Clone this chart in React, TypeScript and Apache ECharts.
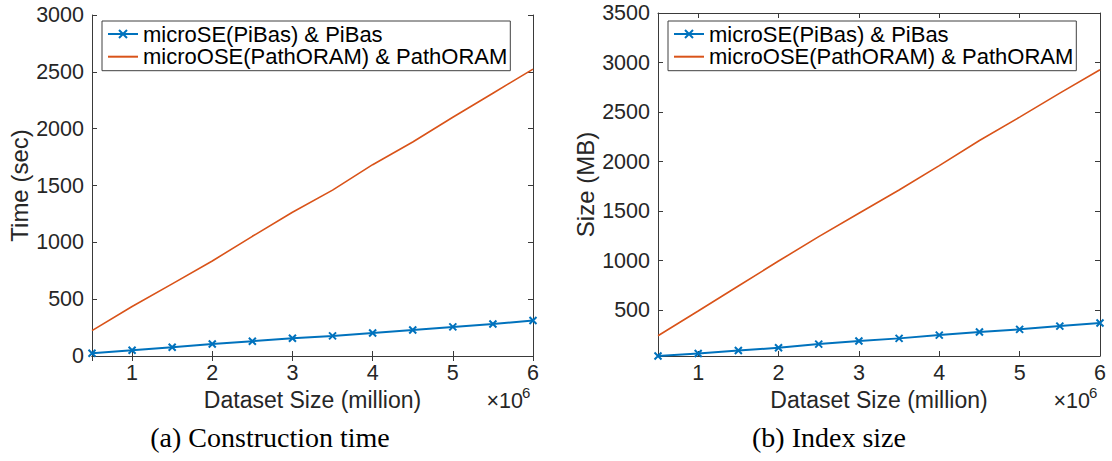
import React, { useEffect, useRef } from "react";
import * as echarts from "echarts";

// Dataset sizes (number of records)
const datasetSize = [500000, 1000000, 1500000, 2000000, 2500000, 3000000, 3500000, 4000000, 4500000, 5000000, 5500000, 6000000];

// (a) Construction time, seconds
const timeMicroSE = [24, 50, 77, 106, 130, 156, 177, 203, 229, 256, 282, 312];
const timeMicroOSE = [223, 435, 635, 836, 1053, 1265, 1459, 1683, 1883, 2100, 2312, 2524];

// (b) Index size, MB
const sizeMicroSE = [36, 62, 92, 119, 156, 187, 214, 247, 278, 305, 338, 369];
const sizeMicroOSE = [240, 490, 743, 995, 1241, 1478, 1713, 1959, 2212, 2448, 2691, 2927];

const seriesNames = ["microSE(PiBas) & PiBas", "microOSE(PathORAM) & PathORAM"];
const captions = ["(a) Construction time", "(b) Index size"];
const yNames = ["Time (sec)", "Size (MB)"];
const xName = "Dataset Size (million)";

const BLUE = "#0072BD";
const ORANGE = "#D95319";
const AXIS = "#3a3a3a";
const TEXT = "#262626";
const SANS = "'Liberation Sans', Arial, Helvetica, sans-serif";
const SERIF = "'Liberation Serif', 'Times New Roman', serif";
const CROSS = "path://M0,0L10,10M10,0L0,10";

const grids = [
  { left: 92, top: 15, width: 441, height: 341 },
  { left: 658, top: 13, width: 442, height: 343 },
];

const yRanges = [
  { min: 0, max: 3000 },
  { min: 36, max: 3500 },
];

export default function App() {
  const ref = useRef<HTMLDivElement>(null);

  useEffect(() => {
    if (!ref.current) return;
    const chart = echarts.init(ref.current, null, { renderer: "svg" });

    const xAxes: any[] = [];
    const yAxes: any[] = [];
    grids.forEach((_, g) => {
      const xBase = {
        type: "value",
        gridIndex: g,
        min: 500000,
        max: 6000000,
        minInterval: 1000000,
        maxInterval: 1000000,
        splitLine: { show: false },
        axisLine: { show: true, lineStyle: { color: AXIS, width: 1 } },
        axisTick: { show: true, inside: true, length: 5, lineStyle: { color: AXIS } },
      };
      xAxes.push({
        ...xBase,
        position: "bottom",
        name: xName,
        nameLocation: "middle",
        nameGap: 27,
        nameTextStyle: { fontFamily: SANS, fontSize: 23, color: TEXT },
        axisLabel: {
          margin: 8,
          fontFamily: SANS,
          fontSize: 21.5,
          lineHeight: 18,
          color: TEXT,
          formatter: (v: number) => (v % 1000000 === 0 ? String(v / 1000000) : ""),
        },
      });
      xAxes.push({ ...xBase, position: "top", axisLabel: { show: false } });

      const yBase = {
        type: "value",
        gridIndex: g,
        min: yRanges[g].min,
        max: yRanges[g].max,
        minInterval: 500,
        maxInterval: 500,
        splitLine: { show: false },
        axisLine: { show: true, lineStyle: { color: AXIS, width: 1 } },
        axisTick: { show: true, inside: true, length: 5, lineStyle: { color: AXIS } },
      };
      yAxes.push({
        ...yBase,
        position: "left",
        name: yNames[g],
        nameLocation: "middle",
        nameGap: 61,
        nameTextStyle: { fontFamily: SANS, fontSize: 24, color: TEXT },
        axisLabel: {
          margin: 8,
          fontFamily: SANS,
          fontSize: 21.5,
          color: TEXT,
          formatter: (v: number) => (v % 500 === 0 ? String(v) : ""),
        },
      });
      yAxes.push({ ...yBase, position: "right", axisLabel: { show: false } });
    });

    const lineSeries = (name: string, g: number, values: number[], color: string, marked: boolean) => ({
      type: "line",
      name,
      xAxisIndex: g * 2,
      yAxisIndex: g * 2,
      data: datasetSize.map((x, i) => [x, values[i]]),
      symbol: marked ? CROSS : "none",
      symbolSize: 7,
      showSymbol: marked,
      lineStyle: { color, width: marked ? 2 : 1.6 },
      itemStyle: { color, borderColor: color, borderWidth: marked ? 2 : 0 },
      z: marked ? 3 : 2,
    });

    const legendFor = (g: number) => ({
      orient: "vertical",
      left: grids[g].left + 10,
      top: 21,
      data: [{ name: seriesNames[0] }, { name: seriesNames[1], itemStyle: { opacity: 0 } }],
      itemWidth: 30,
      itemHeight: 10,
      itemGap: 0.7,
      padding: [2, 3, 3, 5],
      borderColor: "#404040",
      borderWidth: 1,
      backgroundColor: "#ffffff",
      selectedMode: false,
      textStyle: { fontFamily: SANS, fontSize: 22, lineHeight: 21, color: "#000" },
    });

    const exponentLabels = grids.flatMap((gr) => {
      const right = gr.left + gr.width;
      return [
        {
          type: "text",
          right: 1112 - right + 10,
          top: 390,
          style: { text: "×10", font: `21.5px ${SANS}`, fill: TEXT },
        },
        {
          type: "text",
          left: right - 11,
          top: 385,
          style: { text: "6", font: `15px ${SANS}`, fill: TEXT },
        },
      ];
    });

    const captionTexts = [270, 829].map((cx, i) => ({
      type: "text",
      x: cx,
      y: 437,
      style: {
        text: captions[i],
        font: `28px ${SERIF}`,
        fill: "#000",
        align: "center",
        verticalAlign: "middle",
      },
    }));

    chart.setOption({
      animation: false,
      backgroundColor: "#ffffff",
      grid: grids.map((gr) => ({ ...gr, containLabel: false })),
      xAxis: xAxes,
      yAxis: yAxes,
      legend: [legendFor(0), legendFor(1)],
      series: [
        lineSeries(seriesNames[0], 0, timeMicroSE, BLUE, true),
        lineSeries(seriesNames[1], 0, timeMicroOSE, ORANGE, false),
        lineSeries(seriesNames[0], 1, sizeMicroSE, BLUE, true),
        lineSeries(seriesNames[1], 1, sizeMicroOSE, ORANGE, false),
      ],
      graphic: [...exponentLabels, ...captionTexts],
    });

    return () => chart.dispose();
  }, []);

  return (
    <div
      ref={ref}
      style={{ position: "fixed", left: 0, top: 0, width: 1112, height: 461, background: "#fff" }}
    />
  );
}
